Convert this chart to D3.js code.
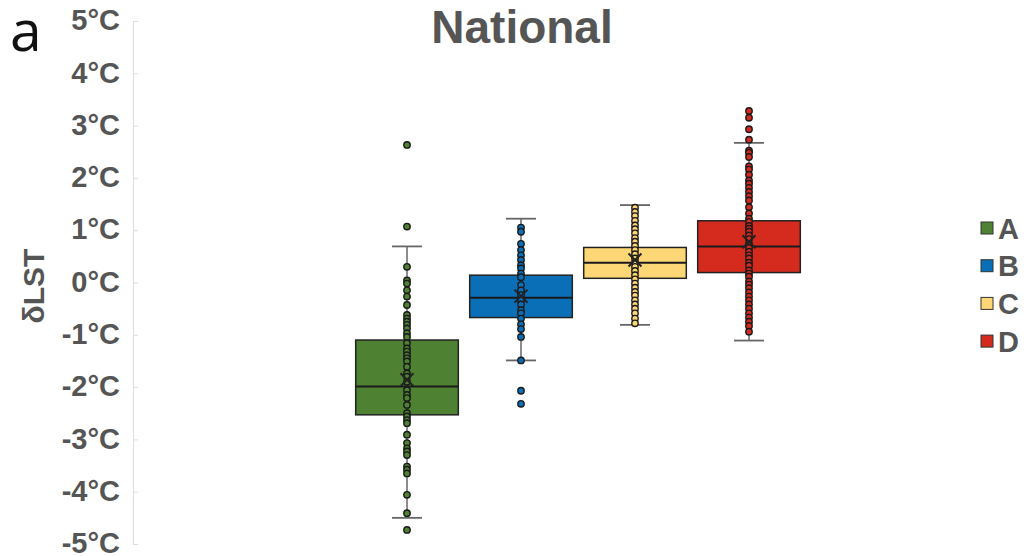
<!DOCTYPE html>
<meta charset="utf-8">
<html>
<style>
  body { margin: 0; background: #fff; }
</style>
<body>
<div id="chartContainer"></div>
<script src="https://cdn.jsdelivr.net/npm/d3@7"></script>
<script>
    // box summary values per group
    var categories = ["A", "B", "C", "D"];
    var q1 = [-2.53, -0.67, 0.08, 0.19];
    var median = [-1.99, -0.29, 0.38, 0.69];
    var q3 = [-1.10, 0.14, 0.67, 1.18];
    var whiskerLow = [-4.50, -1.49, -0.81, -1.11];
    var whiskerHigh = [0.69, 1.22, 1.48, 2.67];
    var means = [-1.86, -0.26, 0.43, 0.78];

    // individual observations (including outliers)
    var pointsA = [2.63, 1.07, 0.30, 0.04, -0.02, -0.15, -0.27, -0.43, -0.62, -0.69, -0.75, -0.81, -0.88,
        -0.97, -1.04, -1.16, -1.26, -1.32, -1.39, -1.45, -1.51, -1.61, -1.74, -1.80, -1.90, -2.06, -2.15,
        -2.21, -2.34, -2.50, -2.56, -2.63, -2.69, -2.91, -3.07, -3.17, -3.23, -3.30, -3.52, -3.58, -3.65,
        -4.06, -4.41, -4.73];
    var pointsB = [1.05, 0.97, 0.74, 0.62, 0.52, 0.43, 0.33, 0.27, 0.17, 0.10, -0.05, -0.15, -0.24, -0.34,
        -0.42, -0.53, -0.59, -0.69, -0.80, -0.89, -1.04, -1.49, -2.07, -2.32];
    var pointsC = [1.43, 1.35, 1.27, 1.18, 1.09, 1.02, 0.94, 0.85, 0.78, 0.70, 0.62, 0.54, 0.46, 0.38, 0.30,
        0.22, 0.14, 0.06, -0.02, -0.10, -0.18, -0.25, -0.34, -0.42, -0.50, -0.59, -0.69, -0.78];
    var pointsD = [3.28, 3.15, 2.93, 2.73, 2.52, 2.48, 2.40, 2.22, 2.16, 2.06, 1.95, 1.89, 1.81, 1.73, 1.65,
        1.57, 1.44, 1.32, 1.22, 1.16, 1.08, 1.03, 0.97, 0.90, 0.83, 0.74, 0.66, 0.59, 0.52, 0.46, 0.38, 0.32,
        0.23, 0.17, 0.11, 0.02, -0.04, -0.11, -0.19, -0.27, -0.34, -0.42, -0.50, -0.59, -0.67, -0.75, -0.83,
        -0.94];
    var yTicks = [5, 4, 3, 2, 1, 0, -1, -2, -3, -4, -5];

    var colors = ["#4e8232", "#0b6fb8", "#fdd676", "#d42b1e"];
    var points = [pointsA, pointsB, pointsC, pointsD];

    var svg = d3.select("#chartContainer").append("svg")
        .attr("width", 1028)
        .attr("height", 556)
        .style("font-family", "'Liberation Sans', Arial, sans-serif");

    var y = d3.scaleLinear().domain([-5, 5]).range([544, 21]);
    var x = d3.scaleBand().domain(categories).range([350, 806]).paddingInner(0.1).paddingOuter(0.05);
    var capHalf = 15;

    // y axis
    var axis = svg.append("g")
        .attr("transform", "translate(133,0)")
        .call(d3.axisLeft(y).tickValues(yTicks).tickSizeInner(-5).tickSizeOuter(0).tickPadding(13)
            .tickFormat(function (d) { return d + "°C"; }));
    axis.select(".domain").attr("stroke", "#dddddd");
    axis.selectAll(".tick line").attr("stroke", "#dddddd");
    axis.selectAll(".tick text")
        .attr("fill", "#555555")
        .attr("dy", "0.3em")
        .style("font-size", "29px")
        .style("font-weight", "bold")
        .style("font-family", "'Liberation Sans', Arial, sans-serif");

    svg.append("text")
        .attr("transform", "translate(44,286) rotate(-90)")
        .attr("text-anchor", "middle")
        .attr("fill", "#555555")
        .style("font-size", "30px")
        .style("font-weight", "bold")
        .text("δLST");

    svg.append("text")
        .attr("x", 522)
        .attr("y", 43)
        .attr("text-anchor", "middle")
        .attr("fill", "#555555")
        .style("font-size", "46px")
        .style("font-weight", "bold")
        .text("National");

    svg.append("text")
        .attr("x", 10)
        .attr("y", 51)
        .attr("fill", "#111")
        .style("font-family", "'Open Sans', sans-serif")
        .style("font-size", "57px")
        .text("a");

    var groups = svg.selectAll("g.box")
        .data(categories)
        .enter()
        .append("g")
            .attr("class", "box");

    groups.each(function (c, i) {
        var g = d3.select(this);
        var cx = x(c) + x.bandwidth() / 2;

        // whisker stem and caps
        g.append("line")
            .attr("x1", cx).attr("x2", cx)
            .attr("y1", y(whiskerLow[i])).attr("y2", y(whiskerHigh[i]))
            .attr("stroke", "#666").attr("stroke-width", 1.5);
        [whiskerLow[i], whiskerHigh[i]].forEach(function (w) {
            g.append("line")
                .attr("x1", cx - capHalf).attr("x2", cx + capHalf)
                .attr("y1", y(w)).attr("y2", y(w))
                .attr("stroke", "#666").attr("stroke-width", 1.8);
        });

        g.append("rect")
            .attr("x", x(c))
            .attr("y", y(q3[i]))
            .attr("width", x.bandwidth())
            .attr("height", y(q1[i]) - y(q3[i]))
            .attr("fill", colors[i])
            .attr("stroke", "#222")
            .attr("stroke-width", 1.5);

        g.append("line")
            .attr("x1", x(c)).attr("x2", x(c) + x.bandwidth())
            .attr("y1", y(median[i])).attr("y2", y(median[i]))
            .attr("stroke", "#1a1a1a").attr("stroke-width", 2);

        g.append("line")
            .attr("x1", cx).attr("x2", cx)
            .attr("y1", y(q3[i])).attr("y2", y(q1[i]))
            .attr("stroke", "#333").attr("stroke-width", 1);

        g.selectAll("circle")
            .data(points[i])
            .enter()
            .append("circle")
                .attr("cx", cx)
                .attr("cy", function (d) { return y(d); })
                .attr("r", 3.2)
                .attr("fill", colors[i])
                .attr("stroke", "#1a1a1a")
                .attr("stroke-width", 1.4);

        var my = y(means[i]), s = 6.5;
        g.append("path")
            .attr("d", "M" + (cx - s) + "," + (my - s) + "L" + (cx + s) + "," + (my + s) +
                "M" + (cx - s) + "," + (my + s) + "L" + (cx + s) + "," + (my - s))
            .attr("stroke", "#222").attr("stroke-width", 2).attr("fill", "none");
    });

    // legend
    var legend = svg.selectAll("g.legend")
        .data(categories)
        .enter()
        .append("g")
            .attr("class", "legend")
            .attr("transform", function (d, i) { return "translate(981," + (228 + i * 37.7) + ")"; });
    legend.append("rect")
        .attr("x", 0).attr("y", -6)
        .attr("width", 12).attr("height", 12)
        .attr("fill", function (d, i) { return colors[i]; })
        .attr("stroke", "#333").attr("stroke-width", 1);
    legend.append("text")
        .attr("x", 17)
        .attr("y", 10.5)
        .attr("fill", "#555555")
        .style("font-size", "29px")
        .style("font-weight", "bold")
        .text(function (d) { return d; });
</script>
</body>
</html>
